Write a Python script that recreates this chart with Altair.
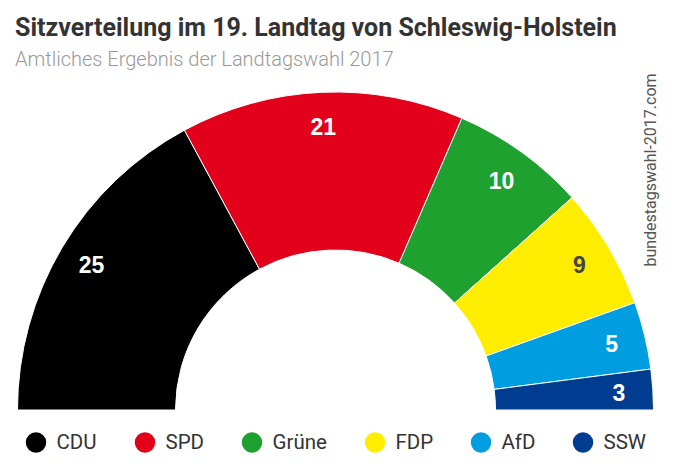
import math
import altair as alt
import pandas as pd

parties = ["CDU", "SPD", "Grüne", "FDP", "AfD", "SSW"]
seats = [25, 21, 10, 9, 5, 3]
colors = ["#000000", "#e2001a", "#1fa12f", "#ffed00", "#009ee0", "#003c8f"]
label_colors = ["#ffffff", "#ffffff", "#ffffff", "#444444", "#ffffff", "#ffffff"]
title_text = "Sitzverteilung im 19. Landtag von Schleswig-Holstein"
subtitle_text = "Amtliches Ergebnis der Landtagswahl 2017"
source_text = ["bundestagswahl-2017.com"]

df = pd.DataFrame({
    "party": parties,
    "seats": seats,
    "idx": list(range(len(parties))),
    "lc": label_colors,
})

T = 76
W = 658
H = 451 - T
cx, cy = 327.5, 402 - T

base = alt.Chart(df)

arcs = base.mark_arc(innerRadius=160, outerRadius=318, stroke="white", strokeWidth=1).encode(
    theta=alt.Theta("seats:Q", stack=True, scale=alt.Scale(range=[-math.pi / 2, math.pi / 2])),
    color=alt.Color(
        "party:N",
        sort=parties,
        scale=alt.Scale(domain=parties, range=colors),
        legend=alt.Legend(
            title=None,
            orient="none",
            legendX=17.5,
            legendY=434 - T - 10,
            direction="horizontal",
            symbolType="circle",
            symbolSize=420,
            symbolStrokeWidth=0,
            symbolOpacity=1,
            labelFont="Roboto",
            labelFontSize=20.5,
            labelColor="#333333",
            labelOffset=10,
            columnPadding=37,
        ),
    ),
    order=alt.Order("idx:Q"),
    x=alt.value(cx),
    y=alt.value(cy),
)

labels = base.mark_text(
    radius=284, font="Liberation Sans", fontWeight="bold", fontSize=23,
    align="center", baseline="middle", dy=2
).encode(
    theta=alt.Theta("seats:Q", stack=True),
    text="seats:Q",
    color=alt.Color("lc:N", scale=None),
    detail="party:N",
    order=alt.Order("idx:Q"),
    x=alt.value(cx),
    y=alt.value(cy),
)

src = alt.Chart(pd.DataFrame({"t": source_text})).mark_text(
    angle=270, fontSize=16, color="#555555", font="Roboto", align="center", baseline="middle"
).encode(
    text="t:N",
    x=alt.value(643),
    y=alt.value(162 - T),
)

chart = alt.layer(arcs, labels, src).properties(
    width=W,
    height=H,
    padding={"left": 0, "top": T, "right": 0, "bottom": 0},
    autosize=alt.AutoSizeParams(type="none"),
    title=alt.Title(
        text=title_text,
        subtitle=subtitle_text,
        anchor="start",
        frame="group",
        font="Roboto",
        fontSize=25,
        fontWeight="bold",
        color="#333333",
        subtitleFont="Roboto",
        subtitleFontSize=20,
        subtitleFontWeight=300,
        subtitleColor="#999999",
        subtitlePadding=9,
        offset=3,
        dx=7,
    ),
).configure_view(stroke=None)

chart.save("out.html", embed_options={"renderer": "svg", "actions": False})
